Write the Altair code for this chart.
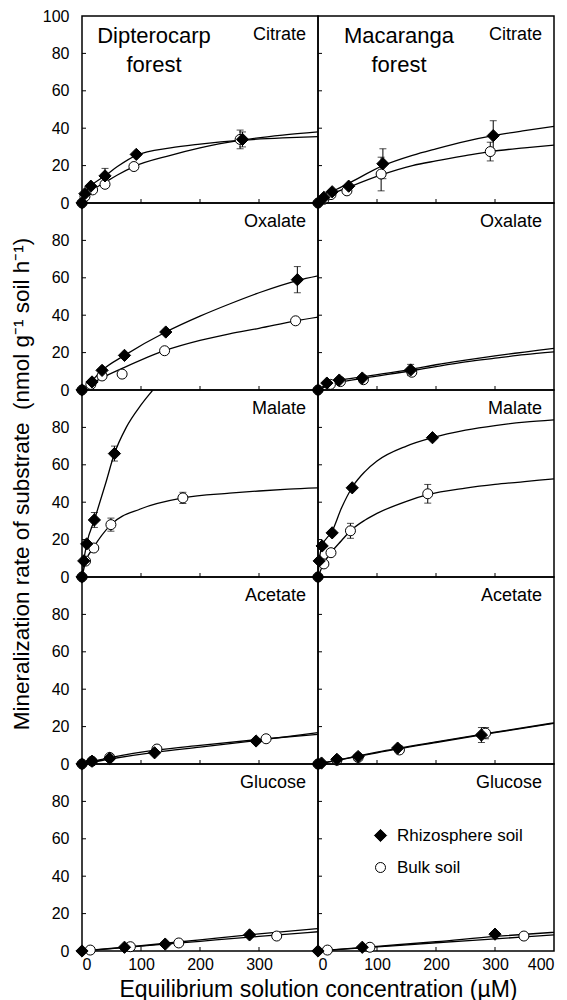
import altair as alt
import pandas as pd

FONT = "Liberation Sans"
W, H = 236, 187
RHIZO = "Rhizosphere soil"
BULK = "Bulk soil"

SUBSTRATES = ["Citrate", "Oxalate", "Malate", "Acetate", "Glucose"]
FOREST_LABELS = [["Dipterocarp", "forest"], ["Macaranga", "forest"]]
X_TICKS_LEFT = [0, 100, 200, 300]
X_TICKS_RIGHT = [0, 100, 200, 300, 400]
Y_TICKS_TOP = [0, 20, 40, 60, 80, 100]
Y_TICKS = [0, 20, 40, 60, 80]
INNER_X_TICKS = [100, 200, 300]
INNER_Y_TICKS = [20, 40, 60, 80]
X_TITLE = "Equilibrium solution concentration (\u00b5M)"
Y_TITLE = "Mineralization rate of substrate \u00a0(nmol g\u207b\u00b9 soil h\u207b\u00b9)"

# ---------------- Citrate, Dipterocarp ----------------
CIT_D_RHIZO_X = [0, 5, 15, 39, 92, 272]
CIT_D_RHIZO_Y = [0, 5, 9, 14.5, 26, 34]
CIT_D_RHIZO_ERR = [0, 0, 0, 4, 0, 4]
CIT_D_BULK_X = [0, 5, 18, 39, 88, 268]
CIT_D_BULK_Y = [0, 3.5, 7, 10, 19.5, 34]
CIT_D_BULK_ERR = [0, 0, 0, 0, 0, 5]
CIT_D_FIT_RHIZO_X = [0, 5, 15, 39, 60, 92, 150, 200, 272, 340, 400]
CIT_D_FIT_RHIZO_Y = [0, 5, 9, 14.5, 19.5, 25.5, 29.5, 31.5, 33.6, 34.8, 35.5]
CIT_D_FIT_BULK_X = [0, 5, 18, 39, 60, 88, 150, 200, 268, 340, 400]
CIT_D_FIT_BULK_Y = [0, 3, 7, 11, 15, 19.5, 25.5, 29.5, 33.5, 36.3, 38]

# ---------------- Citrate, Macaranga ----------------
CIT_M_RHIZO_X = [0, 10, 24, 52, 110, 297]
CIT_M_RHIZO_Y = [0, 3, 6, 9, 21, 36]
CIT_M_RHIZO_ERR = [0, 0, 0, 0, 8, 8]
CIT_M_BULK_X = [0, 10, 22, 49, 107, 292]
CIT_M_BULK_Y = [0, 2, 4.5, 6.5, 15.5, 27.5]
CIT_M_BULK_ERR = [0, 0, 0, 0, 9, 5]
CIT_M_FIT_RHIZO_X = [0, 10, 24, 52, 110, 160, 200, 250, 297, 350, 400]
CIT_M_FIT_RHIZO_Y = [0, 3, 6, 10.5, 20, 25.5, 29, 33, 36, 38.7, 41]
CIT_M_FIT_BULK_X = [0, 10, 22, 49, 107, 160, 200, 250, 292, 350, 400]
CIT_M_FIT_BULK_Y = [0, 2, 4.5, 8, 15, 20, 22.5, 25.3, 27.5, 29.5, 31]

# ---------------- Oxalate, Dipterocarp ----------------
OXA_D_RHIZO_X = [0, 17, 34, 72, 142, 365]
OXA_D_RHIZO_Y = [0, 4.3, 10.5, 18.5, 31, 59]
OXA_D_RHIZO_ERR = [0, 0, 0, 0, 0, 7]
OXA_D_BULK_X = [0, 15, 34, 68, 140, 362]
OXA_D_BULK_Y = [0, 3, 7.5, 8.5, 21, 37]
OXA_D_BULK_ERR = [0, 0, 0, 0, 0, 0]
OXA_D_FIT_RHIZO_X = [0, 17, 34, 72, 142, 200, 250, 300, 365, 400]
OXA_D_FIT_RHIZO_Y = [0, 5, 10.5, 18.5, 31, 39.5, 46, 52, 58.5, 61]
OXA_D_FIT_BULK_X = [0, 15, 34, 70, 140, 200, 250, 300, 362, 400]
OXA_D_FIT_BULK_Y = [0, 3.2, 6.5, 11.8, 21, 26.5, 30, 33, 37, 39]

# ---------------- Oxalate, Macaranga ----------------
OXA_M_RHIZO_X = [0, 15, 36, 75, 157]
OXA_M_RHIZO_Y = [0, 3.7, 5.3, 6.4, 10.7]
OXA_M_RHIZO_ERR = [0, 0, 0, 0, 3]
OXA_M_BULK_X = [0, 21, 38, 77, 159]
OXA_M_BULK_Y = [0, 3, 4.5, 5.5, 9.5]
OXA_M_BULK_ERR = [0, 0, 0, 0, 0]
OXA_M_FIT_RHIZO_X = [0, 15, 36, 75, 157, 200, 250, 300, 350, 400]
OXA_M_FIT_RHIZO_Y = [0, 3, 5, 7, 11, 13.5, 16, 18.3, 20.3, 22.3]
OXA_M_FIT_BULK_X = [0, 21, 38, 77, 159, 200, 250, 300, 350, 400]
OXA_M_FIT_BULK_Y = [0, 2.7, 4.2, 6.3, 10.3, 12.5, 15, 17, 18.9, 20.4]

# ---------------- Malate, Dipterocarp ----------------
MAL_D_RHIZO_X = [0, 3, 8, 21, 55]
MAL_D_RHIZO_Y = [0, 8.6, 17.7, 30.5, 66]
MAL_D_RHIZO_ERR = [0, 0, 0, 4, 4]
MAL_D_BULK_X = [0, 6, 20, 49, 171]
MAL_D_BULK_Y = [0, 8.5, 15.5, 28, 42.3]
MAL_D_BULK_ERR = [0, 0, 0, 3.5, 3]
MAL_D_FIT_RHIZO_X = [0, 3, 8, 21, 40, 55, 75, 100, 120, 140]
MAL_D_FIT_RHIZO_Y = [0, 8.6, 17.7, 30.5, 50, 66, 80, 92, 100, 108]
MAL_D_FIT_BULK_X = [0, 6, 20, 49, 100, 171, 250, 300, 350, 400]
MAL_D_FIT_BULK_Y = [0, 8, 16, 28, 36.5, 42.3, 44.8, 46, 47, 47.7]

# ---------------- Malate, Macaranga ----------------
MAL_M_RHIZO_X = [0, 2, 7, 24, 58, 194]
MAL_M_RHIZO_Y = [0, 8.6, 16.6, 23.6, 47.7, 74.5]
MAL_M_RHIZO_ERR = [0, 0, 0, 0, 0, 0]
MAL_M_BULK_X = [0, 10, 22, 55, 186]
MAL_M_BULK_Y = [0, 7, 13, 24.7, 44.5]
MAL_M_BULK_ERR = [0, 0, 0, 4, 5]
MAL_M_FIT_RHIZO_X = [0, 2, 7, 24, 40, 58, 80, 100, 150, 194, 250, 300, 350, 400]
MAL_M_FIT_RHIZO_Y = [0, 8.6, 16.6, 24.5, 37, 48, 56.5, 62, 70, 74.5, 78.5, 81, 82.8, 84]
MAL_M_FIT_BULK_X = [0, 10, 22, 40, 55, 80, 100, 150, 186, 250, 300, 350, 400]
MAL_M_FIT_BULK_Y = [0, 7.5, 13, 19.5, 24.7, 30.5, 34, 40.5, 44, 47.5, 49.5, 51, 52.5]

# ---------------- Acetate, Dipterocarp ----------------
ACE_D_RHIZO_X = [0, 17, 47, 123, 295]
ACE_D_RHIZO_Y = [0, 1.5, 3, 6, 12.3]
ACE_D_RHIZO_ERR = [0, 0, 0, 0, 0]
ACE_D_BULK_X = [0, 17, 47, 127, 312]
ACE_D_BULK_Y = [0, 1.5, 3.5, 8, 13.5]
ACE_D_BULK_ERR = [0, 0, 0, 0, 0]
ACE_D_FIT_RHIZO_X = [0, 50, 123, 200, 295, 400]
ACE_D_FIT_RHIZO_Y = [0, 2.8, 6.2, 9, 12.5, 16.8]
ACE_D_FIT_BULK_X = [0, 50, 127, 200, 312, 400]
ACE_D_FIT_BULK_Y = [0, 3.5, 7.5, 10, 13.5, 15.8]

# ---------------- Acetate, Macaranga ----------------
ACE_M_RHIZO_X = [0, 6, 32, 68, 135, 277]
ACE_M_RHIZO_Y = [0, 0.5, 2.5, 4, 8.5, 15.5]
ACE_M_RHIZO_ERR = [0, 0, 0, 0, 0, 4]
ACE_M_BULK_X = [0, 32, 68, 138, 284]
ACE_M_BULK_Y = [0, 2, 3.5, 7.5, 16.5]
ACE_M_BULK_ERR = [0, 0, 0, 0, 3]
ACE_M_FIT_RHIZO_X = [0, 50, 100, 200, 300, 400]
ACE_M_FIT_RHIZO_Y = [0, 3.2, 6.3, 11.8, 17, 22]
ACE_M_FIT_BULK_X = [0, 50, 100, 200, 300, 400]
ACE_M_FIT_BULK_Y = [0, 3, 6, 11.5, 16.8, 21.7]

# ---------------- Glucose, Dipterocarp ----------------
GLU_D_RHIZO_X = [0, 72, 141, 284]
GLU_D_RHIZO_Y = [0, 2, 3.7, 8.6]
GLU_D_RHIZO_ERR = [0, 0, 0, 0]
GLU_D_BULK_X = [14, 82, 164, 330]
GLU_D_BULK_Y = [0.5, 2.3, 4.3, 8]
GLU_D_BULK_ERR = [0, 0, 0, 0]
GLU_D_FIT_RHIZO_X = [0, 100, 200, 300, 400]
GLU_D_FIT_RHIZO_Y = [0, 2.8, 6, 9.2, 12]
GLU_D_FIT_BULK_X = [0, 100, 200, 300, 400]
GLU_D_FIT_BULK_Y = [0, 2.6, 5.2, 7.8, 10.3]

# ---------------- Glucose, Macaranga ----------------
GLU_M_RHIZO_X = [0, 75, 300]
GLU_M_RHIZO_Y = [0, 2, 9]
GLU_M_RHIZO_ERR = [0, 0, 0]
GLU_M_BULK_X = [16, 88, 349]
GLU_M_BULK_Y = [0.5, 2, 8]
GLU_M_BULK_ERR = [0, 0, 0]
GLU_M_FIT_RHIZO_X = [0, 100, 200, 300, 400]
GLU_M_FIT_RHIZO_Y = [0, 2.5, 5, 7.8, 10]
GLU_M_FIT_BULK_X = [0, 100, 200, 300, 400]
GLU_M_FIT_BULK_Y = [0, 2.2, 4.4, 6.5, 8.6]

PANEL_DATA = {
    ("Citrate", 0): (CIT_D_RHIZO_X, CIT_D_RHIZO_Y, CIT_D_RHIZO_ERR, CIT_D_BULK_X, CIT_D_BULK_Y, CIT_D_BULK_ERR,
                     CIT_D_FIT_RHIZO_X, CIT_D_FIT_RHIZO_Y, CIT_D_FIT_BULK_X, CIT_D_FIT_BULK_Y),
    ("Citrate", 1): (CIT_M_RHIZO_X, CIT_M_RHIZO_Y, CIT_M_RHIZO_ERR, CIT_M_BULK_X, CIT_M_BULK_Y, CIT_M_BULK_ERR,
                     CIT_M_FIT_RHIZO_X, CIT_M_FIT_RHIZO_Y, CIT_M_FIT_BULK_X, CIT_M_FIT_BULK_Y),
    ("Oxalate", 0): (OXA_D_RHIZO_X, OXA_D_RHIZO_Y, OXA_D_RHIZO_ERR, OXA_D_BULK_X, OXA_D_BULK_Y, OXA_D_BULK_ERR,
                     OXA_D_FIT_RHIZO_X, OXA_D_FIT_RHIZO_Y, OXA_D_FIT_BULK_X, OXA_D_FIT_BULK_Y),
    ("Oxalate", 1): (OXA_M_RHIZO_X, OXA_M_RHIZO_Y, OXA_M_RHIZO_ERR, OXA_M_BULK_X, OXA_M_BULK_Y, OXA_M_BULK_ERR,
                     OXA_M_FIT_RHIZO_X, OXA_M_FIT_RHIZO_Y, OXA_M_FIT_BULK_X, OXA_M_FIT_BULK_Y),
    ("Malate", 0): (MAL_D_RHIZO_X, MAL_D_RHIZO_Y, MAL_D_RHIZO_ERR, MAL_D_BULK_X, MAL_D_BULK_Y, MAL_D_BULK_ERR,
                    MAL_D_FIT_RHIZO_X, MAL_D_FIT_RHIZO_Y, MAL_D_FIT_BULK_X, MAL_D_FIT_BULK_Y),
    ("Malate", 1): (MAL_M_RHIZO_X, MAL_M_RHIZO_Y, MAL_M_RHIZO_ERR, MAL_M_BULK_X, MAL_M_BULK_Y, MAL_M_BULK_ERR,
                    MAL_M_FIT_RHIZO_X, MAL_M_FIT_RHIZO_Y, MAL_M_FIT_BULK_X, MAL_M_FIT_BULK_Y),
    ("Acetate", 0): (ACE_D_RHIZO_X, ACE_D_RHIZO_Y, ACE_D_RHIZO_ERR, ACE_D_BULK_X, ACE_D_BULK_Y, ACE_D_BULK_ERR,
                     ACE_D_FIT_RHIZO_X, ACE_D_FIT_RHIZO_Y, ACE_D_FIT_BULK_X, ACE_D_FIT_BULK_Y),
    ("Acetate", 1): (ACE_M_RHIZO_X, ACE_M_RHIZO_Y, ACE_M_RHIZO_ERR, ACE_M_BULK_X, ACE_M_BULK_Y, ACE_M_BULK_ERR,
                     ACE_M_FIT_RHIZO_X, ACE_M_FIT_RHIZO_Y, ACE_M_FIT_BULK_X, ACE_M_FIT_BULK_Y),
    ("Glucose", 0): (GLU_D_RHIZO_X, GLU_D_RHIZO_Y, GLU_D_RHIZO_ERR, GLU_D_BULK_X, GLU_D_BULK_Y, GLU_D_BULK_ERR,
                     GLU_D_FIT_RHIZO_X, GLU_D_FIT_RHIZO_Y, GLU_D_FIT_BULK_X, GLU_D_FIT_BULK_Y),
    ("Glucose", 1): (GLU_M_RHIZO_X, GLU_M_RHIZO_Y, GLU_M_RHIZO_ERR, GLU_M_BULK_X, GLU_M_BULK_Y, GLU_M_BULK_ERR,
                     GLU_M_FIT_RHIZO_X, GLU_M_FIT_RHIZO_Y, GLU_M_FIT_BULK_X, GLU_M_FIT_BULK_Y),
}


def make_panel(row, col):
    sub = SUBSTRATES[row]
    rx, ry, re, bx, by, be, frx, fry, fbx, fby = PANEL_DATA[(sub, col)]
    is_left = col == 0
    is_bottom = row == len(SUBSTRATES) - 1
    is_legend = is_bottom and not is_left

    if is_bottom:
        x_axis = alt.Axis(
            values=X_TICKS_LEFT if is_left else X_TICKS_RIGHT,
            title=X_TITLE if is_left else None,
            titleX=W, titlePadding=6, labelPadding=5, titleFontSize=23,
        )
    else:
        x_axis = None
    if is_left:
        y_axis = alt.Axis(
            values=Y_TICKS_TOP if row == 0 else Y_TICKS,
            title=Y_TITLE if sub == "Malate" else None,
            titlePadding=18, labelPadding=13, titleFontSize=22.5,
        )
    else:
        y_axis = None

    xs = alt.Scale(domain=[0, 400], nice=False, zero=True)
    ys = alt.Scale(domain=[0, 100], nice=False, zero=True)

    def X(f):
        return alt.X(f"{f}:Q", scale=xs, axis=x_axis)

    def Y(f):
        return alt.Y(f"{f}:Q", scale=ys, axis=y_axis)

    fit = pd.DataFrame(
        {"x": fbx + frx, "y": fby + fry,
         "series": [BULK] * len(fbx) + [RHIZO] * len(frx)}
    )
    pts = pd.DataFrame(
        {"x": bx + rx, "y": by + ry, "err": be + re,
         "series": [BULK] * len(bx) + [RHIZO] * len(rx)}
    )
    errs = pts[pts["err"] > 0].copy()
    errs["lo"] = errs["y"] - errs["err"]
    errs["hi"] = errs["y"] + errs["err"]
    caps = pd.concat([
        pd.DataFrame({"x": errs["x"], "y": errs["lo"]}),
        pd.DataFrame({"x": errs["x"], "y": errs["hi"]}),
    ])

    dom = [RHIZO, BULK]
    if is_legend:
        leg = alt.Legend(
            title=None, orient="none", legendX=54, legendY=63,
            labelFont=FONT, labelFontSize=17, labelColor="black",
            labelOffset=8, rowPadding=14, padding=0,
            symbolStrokeColor="black", symbolStrokeWidth=1, symbolOpacity=1,
        )
    else:
        leg = None

    lines = alt.Chart(fit).mark_line(
        color="black", strokeWidth=1.3, interpolate="monotone", clip=True
    ).encode(x=X("x"), y=Y("y"), detail="series:N")

    layers = [lines]
    if len(errs):
        layers.append(
            alt.Chart(errs).mark_rule(color="black", strokeWidth=1).encode(
                x=X("x"), y=Y("lo"), y2="hi:Q")
        )
        layers.append(
            alt.Chart(caps).mark_tick(color="black", orient="horizontal", size=7, thickness=1).encode(
                x=X("x"), y=Y("y"))
        )
    layers.append(
        alt.Chart(pts).mark_point(filled=False, strokeWidth=1, opacity=1).encode(
            x=X("x"), y=Y("y"),
            shape=alt.Shape("series:N", scale=alt.Scale(domain=dom, range=["diamond", "circle"]), legend=leg),
            fill=alt.Fill("series:N", scale=alt.Scale(domain=dom, range=["black", "white"]), legend=leg),
            stroke=alt.Stroke("series:N", scale=alt.Scale(domain=dom, range=["black", "black"]), legend=leg),
            size=alt.Size("series:N", scale=alt.Scale(domain=dom, range=[150, 100]), legend=leg),
        )
    )
    layers.append(
        alt.Chart(pd.DataFrame({"y": INNER_Y_TICKS})).mark_rule(color="black", strokeWidth=1).encode(
            y=Y("y"), x=alt.value(0), x2=alt.value(4))
    )
    layers.append(
        alt.Chart(pd.DataFrame({"x": INNER_X_TICKS})).mark_rule(color="black", strokeWidth=1).encode(
            x=X("x"), y=alt.value(H), y2=alt.value(H - 4))
    )
    layers.append(
        alt.Chart(pd.DataFrame({"t": [sub]})).mark_text(
            align="right", baseline="middle", font=FONT, fontSize=18, color="black"
        ).encode(x=alt.value(W - 12), y=alt.value(19), text="t:N")
    )
    if row == 0:
        layers.append(
            alt.Chart(pd.DataFrame({"t": [0]})).mark_text(
                text=FOREST_LABELS[col], align="center", baseline="middle",
                font=FONT, fontSize=22, lineHeight=28.5, color="black"
            ).encode(x=alt.value(72 if is_left else 81), y=alt.value(20))
        )
    return alt.layer(*layers).properties(width=W, height=H)


panels = [make_panel(r, c) for r in range(len(SUBSTRATES)) for c in range(2)]

chart = alt.concat(*panels, columns=2, spacing=0, bounds="flush").resolve_scale(
    x="independent", y="independent", shape="independent", fill="independent",
    stroke="independent", size="independent"
).resolve_legend(
    shape="independent", fill="independent", stroke="independent", size="independent"
).properties(
    padding={"left": 1, "top": -1, "right": 4, "bottom": 0}
).configure_view(
    stroke="black", strokeWidth=1.5
).configure_axis(
    labelFont=FONT, titleFont=FONT, labelFontSize=16, titleFontSize=22,
    labelColor="black", titleColor="black", titleFontWeight="normal",
    grid=False, domain=False, ticks=False, tickSize=0,
)

chart.save("out.html", embed_options={"renderer": "svg", "actions": False})
